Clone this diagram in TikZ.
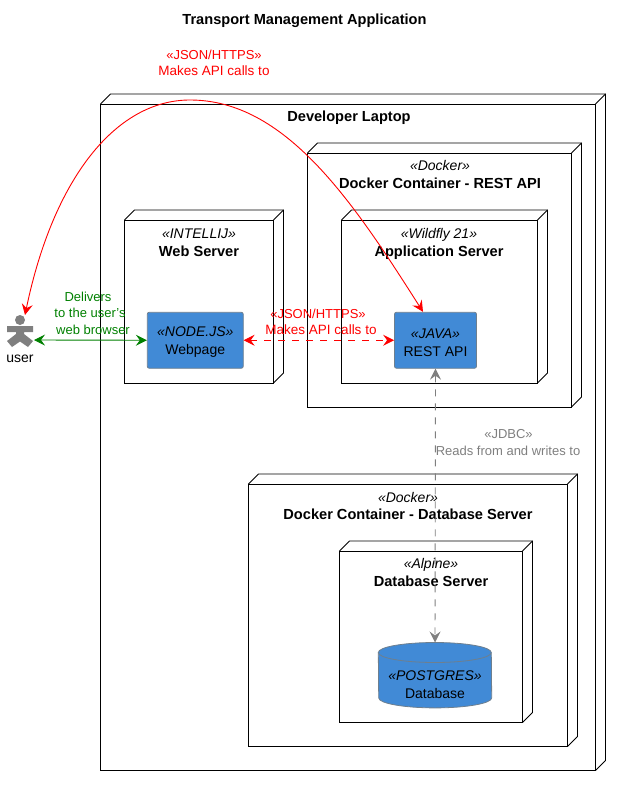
\documentclass[tikz,border=0pt]{standalone}
\usepackage{fontspec}
\setmainfont{Liberation Sans}
\usetikzlibrary{arrows.meta}
\definecolor{compblue}{HTML}{418AD6}
\definecolor{compedge}{HTML}{6E7F8E}
\definecolor{actorgray}{HTML}{7F7F7F}
\definecolor{linkgray}{HTML}{7F7F7F}
\definecolor{linkgreen}{HTML}{008000}
\tikzset{
    devbox/.style={draw=black, line width=0.9pt, inner sep=0pt, outer sep=0pt},
    comp/.style={draw=compedge, fill=compblue, rounded corners=2pt, line width=0.8pt,
        inner sep=0pt, minimum height=56pt},
    comptext/.style={font=\fontsize{14}{18}\selectfont, inner sep=0pt, align=center},
    boxtitle/.style={font=\fontsize{14.6}{16}\selectfont\bfseries, inner sep=0pt, anchor=base},
    stereo/.style={font=\fontsize{14}{16}\selectfont\itshape, inner sep=0pt, anchor=base},
    linklabel/.style={font=\fontsize{13}{15}\selectfont, inner sep=0pt, anchor=base},
    linkwide/.style={linklabel, font=\fontsize{13.5}{15}\selectfont},
    link/.style={line width=0.9pt, {Stealth[length=11pt, width=11pt, inset=4pt]}-{Stealth[length=11pt, width=11pt, inset=4pt]}},
    dashlink/.style={link, dash pattern=on 7pt off 7pt}
}
\begin{document}
\begin{tikzpicture}[x=1pt, y=-1pt]
    \useasboundingbox (0,0) rectangle (621,786);
    % Title
    \node[boxtitle] (title) at (304.5,25) {Transport Management Application};
    % Boxes
    \node[devbox, minimum width=495pt, minimum height=666.5pt] (laptop) at (348,437.25) {};
    \node[devbox, minimum width=264pt, minimum height=254pt] (restbox) at (439.5,280) {};
    \node[devbox, minimum width=196pt, minimum height=163pt] (appbox) at (439.5,301.5) {};
    \node[devbox, minimum width=149pt, minimum height=163pt] (webbox) at (199,301.5) {};
    \node[devbox, minimum width=319pt, minimum height=262.5pt] (dockerdb) at (408,615.25) {};
    \node[devbox, minimum width=183pt, minimum height=171.5pt] (dbbox) at (431,636.75) {};
    \foreach \b in {laptop,restbox,appbox,webbox,dockerdb,dbbox} {
        \draw[line width=0.9pt] (\b.north west) -- ++(10,-10) -| ([shift={(10,-10)}]\b.south east) -- (\b.south east);
        \draw[line width=0.9pt] (\b.north east) -- ++(10,-10);
    }
    % Box titles
    \node[boxtitle] (laptoptitle) at (349,122) {Developer Laptop};
    \node[stereo] (reststereo) at (440,171) {«Docker»};
    \node[boxtitle] (resttitle) at (440,189) {Docker Container - REST API};
    \node[stereo] (appstereo) at (439,238) {«Wildfly 21»};
    \node[boxtitle] (apptitle) at (439,256) {Application Server};
    \node[stereo] (webstereo) at (199,238) {«INTELLIJ»};
    \node[boxtitle] (webtitle) at (199,256) {Web Server};
    \node[stereo] (dockerdbstereo) at (408,502) {«Docker»};
    \node[boxtitle] (dockerdbtitle) at (408,519) {Docker Container - Database Server};
    \node[stereo] (dbstereo) at (431,568) {«Alpine»};
    \node[boxtitle] (dbtitle) at (431,586) {Database Server};
    % Components
    \node[comp, minimum width=96pt] (webpage) at (195.25,340.25) {};
    \node[comptext] (webpagetext) at (195.25,342.5) {\textit{«NODE.JS»}\\Webpage};
    \node[comp, minimum width=82pt] (restapi) at (435.5,340.25) {};
    \node[comptext] (restapitext) at (435.5,342.5) {\textit{«JAVA»}\\REST API};
    % Cylinder
    \node[inner sep=0pt, minimum width=113pt, minimum height=65pt] (database) at (435,675.2) {};
    \draw[draw=compedge, fill=compblue, line width=0.8pt] ([yshift=-10pt]database.north west)
        arc[start angle=180, end angle=0, x radius=56.5pt, y radius=10pt]
        -- ([yshift=10pt]database.south east)
        arc[start angle=0, end angle=-180, x radius=56.5pt, y radius=10pt] -- cycle;
    \draw[draw=compedge, line width=0.8pt] ([yshift=-10pt]database.north west)
        arc[start angle=180, end angle=360, x radius=56.5pt, y radius=10pt];
    \node[comptext] (databasetext) at (435,685) {\textit{«POSTGRES»}\\Database};
    % User
    \fill[actorgray] (20,320) circle (5);
    \fill[actorgray] (7,326) -- (33,326) -- (33,332) -- (24,332) -- (24,334) -- (33,341) -- (28,347) -- (20,341.5)
        -- (12,347) -- (7,341) -- (16,334) -- (16,332) -- (7,332) -- cycle;
    \node[inner sep=0pt, anchor=base, font=\fontsize{14}{16}\selectfont] (user) at (20,362) {user};
    \coordinate (usereast) at (34,340);
    \coordinate (usertop) at (25,315);
    % Links
    \draw[link, linkgreen] (usereast) -- (webpage.west);
    \draw[dashlink, red] (webpage.east) -- (restapi.west);
    \draw[dashlink, linkgray] (restapi.south) -- (database.north);
    \draw[link, red]
        (usertop) .. controls (53,180) and (115,100) .. (190,100)
        .. controls (285,100) and (352,200) .. ([xshift=-12.5pt]restapi.north);
    % Link labels
    \node[linklabel, red] (toplabela) at (214,60) {«JSON/HTTPS»};
    \node[linkwide, red] (toplabelb) at (214,76) {Makes API calls to};
    \node[linklabel, red] (midlabela) at (318,318) {«JSON/HTTPS»};
    \node[linkwide, red] (midlabelb) at (321,334) {Makes API calls to};
    \node[linklabel, linkgreen] (greenlabela) at (88,301) {Delivers};
    \node[linklabel, linkgreen] (greenlabelb) at (90,317.5) {to the user's};
    \node[linklabel, linkgreen] (greenlabelc) at (93,334) {web browser};
    \node[linklabel, linkgray] (graylabela) at (508.5,438) {«JDBC»};
    \node[linklabel, linkgray] (graylabelb) at (508,455) {Reads from and writes to};
\end{tikzpicture}
\end{document}
